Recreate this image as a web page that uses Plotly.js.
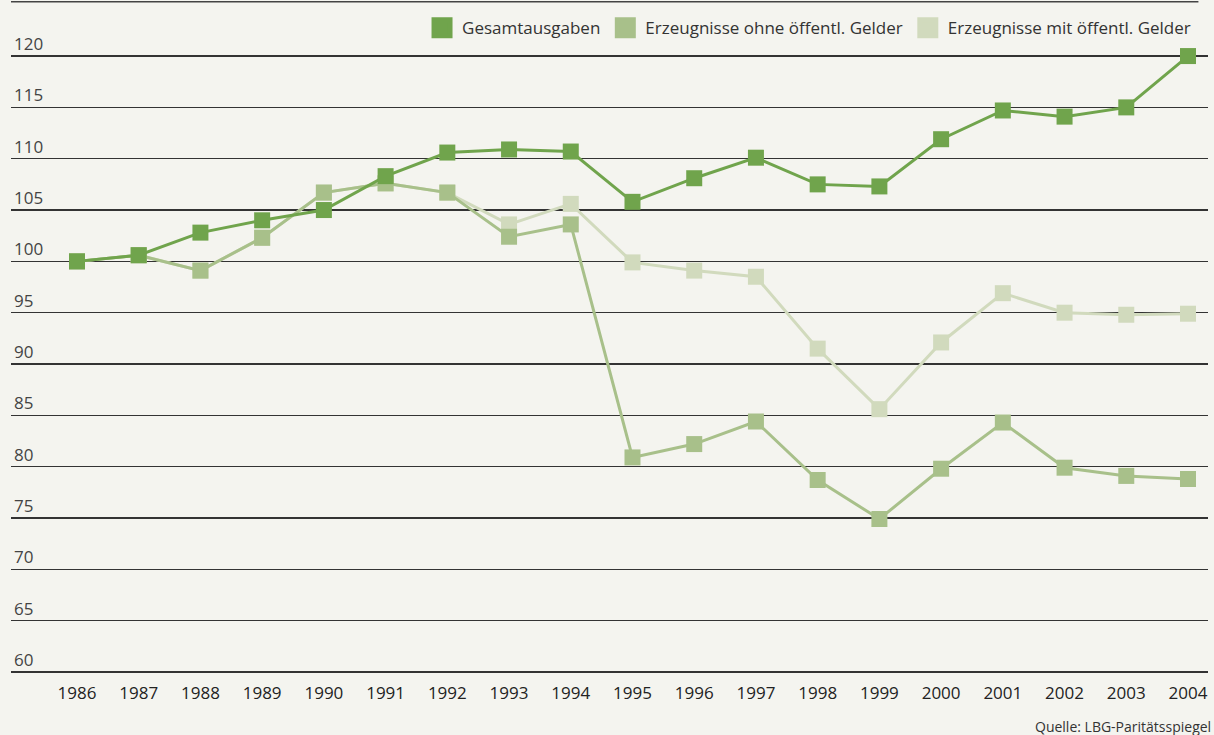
<!DOCTYPE html>
<html><head><meta charset="utf-8">
<script src="https://cdn.plot.ly/plotly-3.0.1.min.js"></script>
<style>html,body{margin:0;padding:0;background:#f4f4ef;}#c{width:1214px;height:735px;}</style>
</head><body><div id="c"></div>
<script>
const years = [1986,1987,1988,1989,1990,1991,1992,1993,1994,1995,1996,1997,1998,1999,2000,2001,2002,2003,2004];
const gesamt = [100,100.6,102.8,104.0,105.0,108.3,110.6,110.9,110.7,105.8,108.1,110.1,107.5,107.3,111.9,114.7,114.1,115.0,120.0];
const ohne = [100,100.6,99.1,102.3,106.7,107.6,106.7,102.4,103.6,80.9,82.2,84.4,78.7,74.9,79.8,84.3,79.9,79.1,78.8];
const mit = [100,100.6,99.1,102.3,106.7,107.6,106.7,103.6,105.6,99.9,99.1,98.5,91.5,85.6,92.1,96.9,95.0,94.8,94.9];
const names = ["Gesamtausgaben","Erzeugnisse ohne öffentl. Gelder","Erzeugnisse mit öffentl. Gelder"];
const colors = ["#70a44c","#a8c08a","#d1dabd"];
const series = [gesamt, ohne, mit];
const order = [2,1,0];
const traces = [];
order.forEach(i => {
  traces.push({x: years, y: series[i], type:'scatter', mode:'lines+markers', showlegend:false,
    line:{color:colors[i], width:3}, marker:{symbol:'square', size:16, color:colors[i]}, cliponaxis:false});
});
[0,1,2].forEach(i => {
  traces.push({x:[null], y:[null], type:'scatter', mode:'markers', name:names[i],
    marker:{symbol:'square', size:16, color:colors[i], line:{color:colors[i], width:5}}});
});
const layout = {
  width:1214, height:735,
  paper_bgcolor:'#f4f4ef', plot_bgcolor:'#f4f4ef',
  margin:{l:11, r:6, t:15, b:62},
  font:{family:'"Open Sans", "Noto Sans", sans-serif', color:'#222', size:17},
  xaxis:{range:[1984.931, 2004.324], tickvals:years, ticktext:years.map(String), showgrid:false, zeroline:false,
    showline:false, ticks:'', tickfont:{size:17}, ticklabelstandoff:8},
  yaxis:{range:[59.9,124], tick0:60, dtick:5, showgrid:true, gridcolor:'#333', gridwidth:1.3, zeroline:false,
    ticklabelposition:'inside top', tickfont:{size:17}, ticks:''},
  legend:{orientation:'h', x:0.99, xanchor:'right', y:0.98, yanchor:'middle',
    font:{size:17, color:'#333'}, bgcolor:'rgba(0,0,0,0)', traceorder:'normal', itemwidth:30},
  shapes:[{type:'line', xref:'paper', yref:'paper', x0:0, x1:0.992, y0:1.02, y1:1.02, line:{color:'#444', width:1.5}}],
  annotations:[{text:'Quelle: LBG-Paritätsspiegel', xref:'paper', yref:'paper', x:1.004, y:-0.081, xanchor:'right', yanchor:'middle',
    showarrow:false, font:{size:14, color:'#333'}}]
};
Plotly.newPlot('c', traces, layout, {displayModeBar:false, staticPlot:true});
</script></body></html>
